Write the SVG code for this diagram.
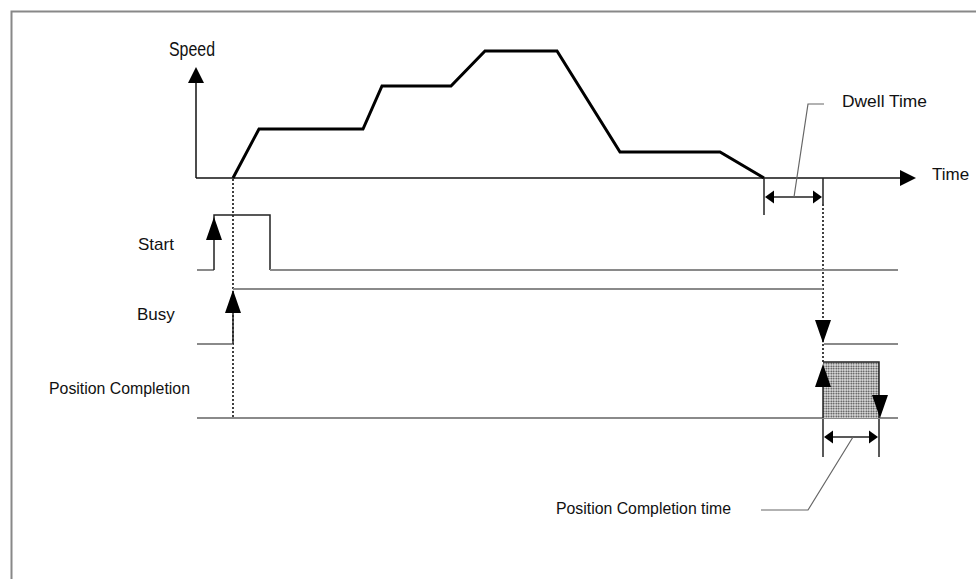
<svg xmlns="http://www.w3.org/2000/svg" width="976" height="579" viewBox="0 0 976 579">
<style>
  .t{font-family:"Liberation Sans",Arial,sans-serif;fill:#111;}
  .ax{stroke:#111;stroke-width:1.5;fill:none;}
  .sp{stroke:#000;stroke-width:3;fill:none;stroke-linejoin:miter;}
  .sg{stroke:#8a8a8a;stroke-width:2;fill:none;}
  .ed{stroke:#222;stroke-width:1.5;fill:none;}
  .dt{stroke:#111;stroke-width:1.6;stroke-dasharray:2 2;fill:none;}
  .ld{stroke:#666;stroke-width:1.2;fill:none;}
  .ah{fill:#000;}
</style>
<defs>
  <path id="big" d="M0,0 L8,23 L-8,23 Z"/>
  <path id="axh" d="M0,0 L8,16 L-8,16 Z"/>
  <path id="sm" d="M0,0 L6.5,9 L-6.5,9 Z"/>
  <pattern id="dots" width="2.5" height="2.5" patternUnits="userSpaceOnUse">
    <rect width="2.5" height="2.5" fill="#e8e8e8"/>
    <circle cx="1.25" cy="1.25" r="0.9" fill="#333"/>
  </pattern>
</defs>
<rect width="976" height="579" fill="#fff"/>
<path d="M11.5,579 V11.5 H976" stroke="#888" stroke-width="2" fill="none"/>

<g id="axes">
  <line class="ax" x1="196" y1="82" x2="196" y2="178"/>
  <line class="ax" x1="196" y1="178" x2="902" y2="178"/>
  <use href="#axh" class="ah" transform="translate(196,67)"/>
  <use href="#axh" class="ah" transform="translate(916,178) rotate(90)"/>
</g>

<g id="speed-profile">
  <polyline class="sp" points="233,178 259,129 363,129 382,86 451,86 485,51 557,51 620,152 720,152 764,178"/>
</g>

<g id="connectors">
  <line class="dt" x1="233" y1="179" x2="233" y2="418"/>
  <line class="dt" x1="823" y1="204" x2="823" y2="364"/>
  <line class="ed" x1="764" y1="178" x2="764" y2="215"/>
  <line class="ed" x1="823" y1="178" x2="823" y2="204"/>
  <line class="ed" x1="768" y1="197" x2="819" y2="197"/>
  <use href="#sm" class="ah" transform="translate(765,197) rotate(-90)"/>
  <use href="#sm" class="ah" transform="translate(822,197) rotate(90)"/>
  <polyline class="ld" points="794,197 808,104 824,104"/>
  <line class="ed" x1="823" y1="418" x2="823" y2="457"/>
  <line class="ed" x1="879" y1="418" x2="879" y2="457"/>
  <line class="ed" x1="827" y1="437" x2="875" y2="437"/>
  <use href="#sm" class="ah" transform="translate(824,437) rotate(-90)"/>
  <use href="#sm" class="ah" transform="translate(878,437) rotate(90)"/>
  <polyline class="ld" points="853,437 808,510 761,510"/>
</g>

<g id="start-signal">
  <line class="sg" x1="197" y1="270" x2="214" y2="270"/>
  <polyline class="ed" points="214,270 214,215 270,215 270,270"/>
  <line class="sg" x1="270" y1="270" x2="898" y2="270"/>
  <use href="#big" class="ah" transform="translate(214,217)"/>
</g>

<g id="busy-signal">
  <line class="sg" x1="197" y1="344" x2="233" y2="344"/>
  <line class="ed" x1="233" y1="344" x2="233" y2="300"/>
  <line class="sg" x1="233" y1="289" x2="823" y2="289"/>
  <line class="sg" x1="824" y1="344" x2="898" y2="344"/>
  <use href="#big" class="ah" transform="translate(233,290)"/>
  <use href="#big" class="ah" transform="translate(823,343) rotate(180)"/>
</g>

<g id="position-completion-signal">
  <line class="sg" x1="197" y1="418" x2="898" y2="418"/>
  <rect x="823" y="362" width="56" height="56" fill="url(#dots)"/>
  <polyline class="ed" points="823,362 879,362 879,418"/>
  <line class="ed" x1="823" y1="387" x2="823" y2="418"/>
  <use href="#big" class="ah" transform="translate(823,364)"/>
  <use href="#big" class="ah" transform="translate(880,418) rotate(180)"/>
</g>

<g id="labels">
  <text class="t" x="169" y="56" font-size="21" textLength="46" lengthAdjust="spacingAndGlyphs">Speed</text>
  <text class="t" x="932" y="180" font-size="17">Time</text>
  <text class="t" x="842" y="107" font-size="17" textLength="85" lengthAdjust="spacingAndGlyphs">Dwell Time</text>
  <text class="t" x="138" y="250" font-size="17">Start</text>
  <text class="t" x="137" y="320" font-size="17">Busy</text>
  <text class="t" x="49" y="394" font-size="16" textLength="141" lengthAdjust="spacingAndGlyphs">Position Completion</text>
  <text class="t" x="556" y="514" font-size="16" textLength="175" lengthAdjust="spacingAndGlyphs">Position Completion time</text>
</g>
</svg>
